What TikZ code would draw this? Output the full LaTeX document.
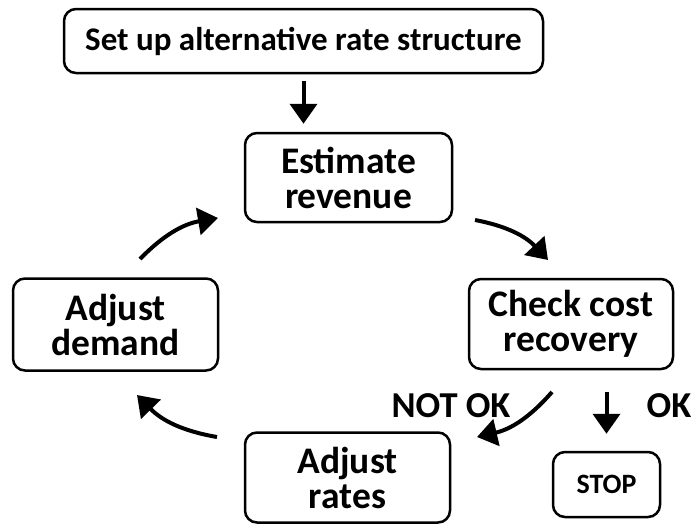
\documentclass[tikz,border=0pt]{standalone}
\usepackage{fontspec}
\setmainfont{Carlito}
\usetikzlibrary{arrows.meta}
\tikzset{
  box/.style={draw, line width=2.5pt, rounded corners=12pt, align=center, inner sep=0pt,
    minimum width=205pt, minimum height=90pt, font=\bfseries\fontsize{37.5}{35}\selectfont},
  arr/.style={line width=4pt, -{Triangle[length=20pt,width=27pt]}},
  lbl/.style={inner sep=0pt, font=\bfseries\fontsize{36.5}{35}\selectfont}
}
\begin{document}
\begin{tikzpicture}[x=1pt,y=1pt]
      \useasboundingbox (0,0) rectangle (694,-523);
      \node[box, minimum width=479pt, minimum height=64pt, font=\bfseries\fontsize{33}{35}\selectfont] (top) at (303.5,-41) {Set up alternative rate structure};
      \node[box, minimum width=207pt, minimum height=89pt] (est) at (348.5,-177.5) {Estimate\\revenue};
      \node[box, minimum width=204pt] (chk) at (571,-324) {Check cost\\recovery};
      \node[box] (rat) at (347.5,-477.5) {Adjust\\rates};
      \node[box, minimum height=92pt] (dem) at (115.5,-324.5) {Adjust\\demand};
      \node[box, minimum width=107pt, minimum height=65pt, font=\bfseries\fontsize{28}{30}\selectfont] (stop) at (606.5,-484.5) {STOP};

      \node[lbl] (notok) at (451,-406) {NOT OK};
      \node[lbl] (ok) at (669,-406) {OK};

      \coordinate (est-out) at (475,-220);
      \coordinate (chk-in) at (548,-260);
      \coordinate (chk-out) at (552,-392);
      \coordinate (rat-in) at (477,-437);
      \coordinate (rat-out) at (217,-437);
      \coordinate (dem-in) at (137,-395);
      \coordinate (dem-out) at (140,-259);
      \coordinate (est-in) at (218,-218);

      \draw[arr, shorten <=7pt, shorten >=8pt] (top.south) -- (top.south |- est.north);
      \draw[arr, shorten <=22pt, shorten >=17pt] (stop.north |- chk.south) -- (stop.north);

      \foreach \source/\dest in {est-out/chk-in, chk-out/rat-in, rat-out/dem-in, dem-out/est-in}
        \draw[arr] (\source) to[bend left=18] (\dest);
\end{tikzpicture}
\end{document}
